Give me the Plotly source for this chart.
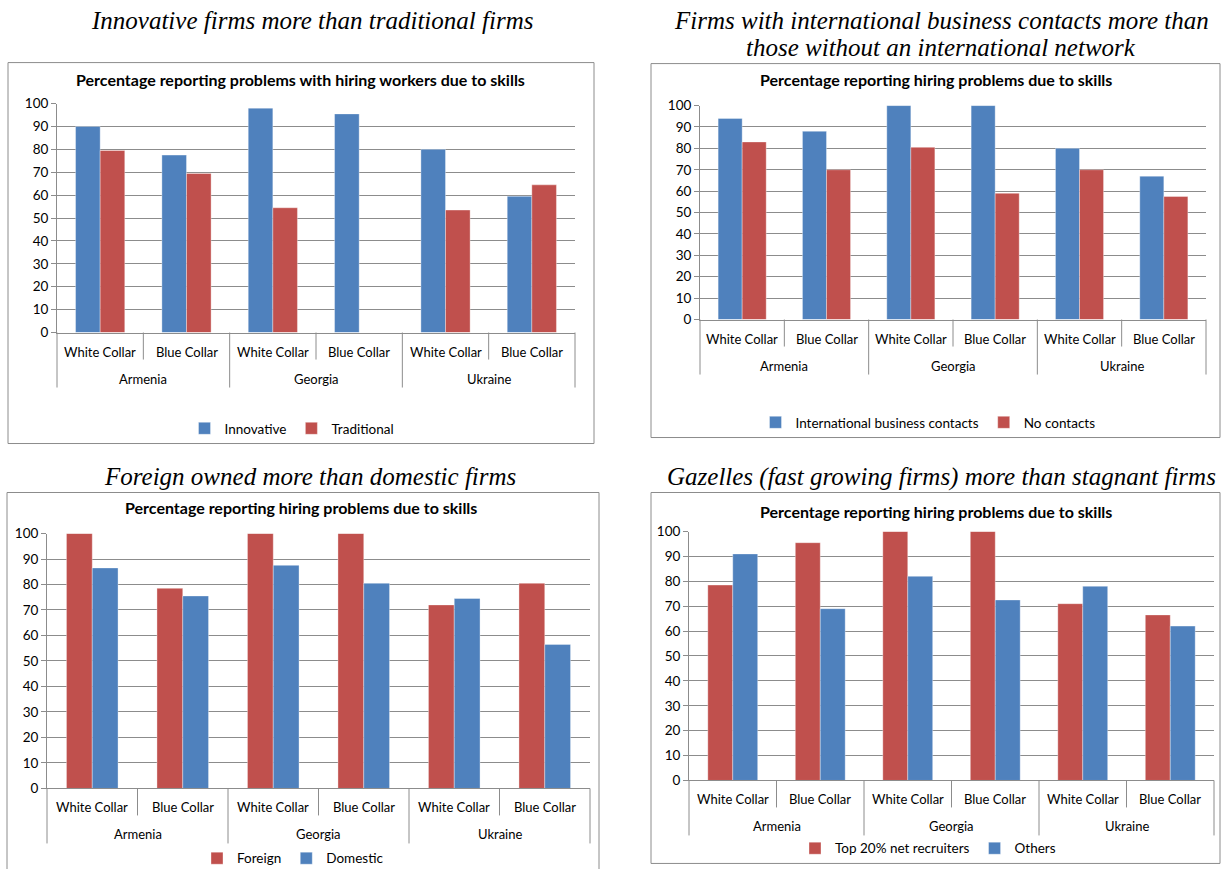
import plotly.graph_objects as go

W, H = 1223, 880

countries = ["Armenia", "Armenia", "Georgia", "Georgia", "Ukraine", "Ukraine"]
collars = ["White Collar", "Blue Collar"] * 3
country_names = ["Armenia", "Georgia", "Ukraine"]

# Panel 1
p1_innov = [90, 77.5, 98, 95.5, 80, 59.5]
p1_trad = [79.5, 69.5, 54.5, None, 53.5, 64.5]
# Panel 2
p2_intl = [94, 88, 100, 100, 80, 67]
p2_none = [83, 70, 80.5, 59, 70, 57.5]
# Panel 3
p3_foreign = [100, 78.5, 100, 100, 72, 80.5]
p3_domestic = [86.5, 75.5, 87.5, 80.5, 74.5, 56.5]
# Panel 4
p4_top = [78.5, 95.5, 100, 100, 71, 66.5]
p4_others = [91, 69, 82, 72.5, 78, 62]

BLUE = "#4F81BD"
RED = "#C0504D"
GRID = "#8C8C8C"
BORDER = "#8C8C8C"
TXT = "#000000"
SANS = "Lato, Carlito, Calibri, sans-serif"
SERIF = "Liberation Serif, Times New Roman, serif"

# screen mapping of the photographed page (vertical): screen = SY * fig + OY
SY, OY = 0.982, 7.4


def px(x):
    return x / W


def py(y):
    return 1 - ((y - OY) / SY) / H


panels = [
    dict(x0=57, x1=575, ytop=103, ybot=332,
         series=[("Innovative", p1_innov, BLUE), ("Traditional", p1_trad, RED)],
         title="Percentage reporting problems with hiring workers due to skills",
         tx=300, ty=79, legy=428, legx=292,
         box=(8, 62, 594, 443)),
    dict(x0=700, x1=1206, ytop=105, ybot=319,
         series=[("International business contacts", p2_intl, BLUE), ("No contacts", p2_none, RED)],
         title="Percentage reporting hiring problems due to skills",
         tx=936, ty=79, legy=422, legx=928,
         box=(651, 63, 1220, 437)),
    dict(x0=47, x1=590, ytop=533, ybot=788,
         series=[("Foreign", p3_foreign, RED), ("Domestic", p3_domestic, BLUE)],
         title="Percentage reporting hiring problems due to skills",
         tx=301, ty=507, legy=858, legx=293,
         box=(7, 492, 599, 900)),
    dict(x0=689, x1=1214, ytop=531, ybot=780,
         series=[("Top 20% net recruiters", p4_top, RED), ("Others", p4_others, BLUE)],
         title="Percentage reporting hiring problems due to skills",
         tx=936, ty=511, legy=848, legx=928,
         box=(651, 492, 1220, 863)),
]

fig = go.Figure()
layout = dict(
    width=W, height=H, margin=dict(l=0, r=0, t=0, b=0),
    paper_bgcolor="white", plot_bgcolor="white",
    barmode="group", bargap=0.43, bargroupgap=0,
    font=dict(family=SANS, size=13, color=TXT),
    showlegend=True,
)
annotations = []
shapes = []

for i, p in enumerate(panels):
    n = i + 1
    xa = "x" if n == 1 else f"x{n}"
    ya = "y" if n == 1 else f"y{n}"
    lg = "legend" if n == 1 else f"legend{n}"
    for name, vals, col in p["series"]:
        fig.add_trace(go.Bar(
            x=[countries, collars], y=vals, name=name,
            marker=dict(color=col, line=dict(color="rgba(255,255,255,0.35)", width=1)),
            xaxis=xa, yaxis=ya, legend=lg,
        ))
    xk = "xaxis" if n == 1 else f"xaxis{n}"
    yk = "yaxis" if n == 1 else f"yaxis{n}"
    layout[xk] = dict(
        domain=[px(p["x0"]), px(p["x1"])], anchor=ya, type="multicategory",
        showgrid=False, showline=True, linecolor=GRID, linewidth=1,
        ticks="", showticklabels=False, showdividers=False,
        fixedrange=True,
    )
    layout[yk] = dict(
        domain=[py(p["ybot"]), py(p["ytop"])], anchor=xa, range=[0, 100],
        dtick=10, tick0=0, showgrid=True, gridcolor=GRID, gridwidth=1,
        showline=True, linecolor=GRID, linewidth=1, zeroline=False,
        ticks="outside", ticklen=5, tickcolor=GRID,
        tickfont=dict(family=SANS, size=13.5, color=TXT),
        fixedrange=True,
    )
    layout[lg] = dict(
        orientation="h", x=px(p["legx"]), y=py(p["legy"]), xanchor="center", yanchor="middle",
        xref="paper", yref="paper", font=dict(family=SANS, size=13.5, color=TXT),
        bgcolor="rgba(0,0,0,0)", itemwidth=30, tracegroupgap=0,
        itemclick=False, itemdoubleclick=False,
    )
    annotations.append(dict(
        text=f"<b>{p['title']}</b>", x=px(p["tx"]), y=py(p["ty"]), xref="paper", yref="paper",
        showarrow=False, xanchor="center", yanchor="middle",
        font=dict(family=SANS, size=16, color=TXT),
    ))
    # category axis: two-level labels and dividers (Excel style)
    ncat = len(collars)
    cw = (p["x1"] - p["x0"]) / ncat
    yb = p["ybot"]
    for k in range(ncat + 1):
        xx = p["x0"] + k * cw
        length = 55 if k % 2 == 0 else 27
        shapes.append(dict(type="line", xref="paper", yref="paper",
                           x0=px(xx), x1=px(xx), y0=py(yb), y1=py(yb + length),
                           line=dict(color=GRID, width=1)))
    for k, lab in enumerate(collars):
        annotations.append(dict(
            text=lab, x=px(p["x0"] + (k + 0.5) * cw), y=py(yb + 19),
            xref="paper", yref="paper", showarrow=False, xanchor="center", yanchor="middle",
            font=dict(family=SANS, size=13, color=TXT),
        ))
    for j, lab in enumerate(country_names):
        annotations.append(dict(
            text=lab, x=px(p["x0"] + (2 * j + 1) * cw), y=py(yb + 46),
            xref="paper", yref="paper", showarrow=False, xanchor="center", yanchor="middle",
            font=dict(family=SANS, size=13, color=TXT),
        ))
    bx0, by0, bx1, by1 = p["box"]
    shapes.append(dict(type="rect", xref="paper", yref="paper",
                       x0=px(bx0), x1=px(bx1), y0=py(by1), y1=py(by0),
                       line=dict(color=BORDER, width=1), fillcolor="rgba(0,0,0,0)", layer="below"))

headers = [
    ("<i>Innovative firms more than traditional firms</i>", 312, 20),
    ("<i>Firms with international business contacts more than</i>", 941, 20),
    ("<i>those without an international network</i>", 941, 47),
    ("<i>Foreign owned more than domestic firms</i>", 310, 476),
    ("<i>Gazelles (fast growing firms) more than stagnant firms</i>", 941, 476),
]
for t, x, y in headers:
    annotations.append(dict(
        text=t, x=px(x), y=py(y), xref="paper", yref="paper", showarrow=False,
        xanchor="center", yanchor="middle",
        font=dict(family=SERIF, size=25, color=TXT),
    ))

layout["annotations"] = annotations
layout["shapes"] = shapes
fig.update_layout(**layout)

pin = ("document.body.style.margin='0';"
       "var d=document.getElementById('{plot_id}');"
       "d.style.position='fixed';d.style.left='0px';d.style.top='0px';")
fig.write_html("out.html", post_script=pin, config={"displayModeBar": False})
